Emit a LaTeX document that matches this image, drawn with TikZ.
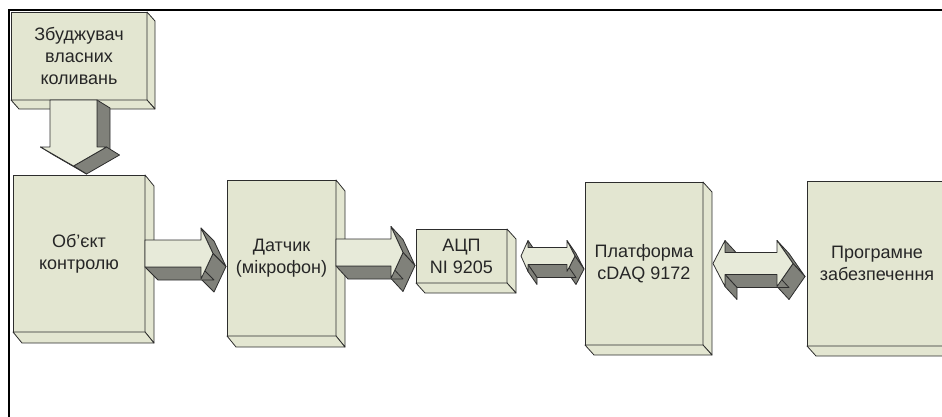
\documentclass[tikz,border=0pt]{standalone}
\usepackage{fontspec}
\setmainfont{Liberation Sans}
\usetikzlibrary{calc}
\definecolor{panel}{RGB}{227,230,209}
\definecolor{panelhi}{RGB}{231,234,217}
\definecolor{shade}{RGB}{128,129,122}
\definecolor{edge}{RGB}{45,45,45}

\newdimen\gapdim
% horizontal gap between two blocks -> \gapw
\newcommand{\gapx}[2]{%
  \pgfextractx{\gapdim}{\pgfpointdiff{\pgfpointanchor{#1}{east}}{\pgfpointanchor{#2}{west}}}%
  \pgfmathsetmacro{\gapw}{\the\gapdim}}
% extruded outline: first x, first y, other points, depth dx, dy
\newcommand{\slab}[5]{%
  \foreach \x/\y [remember=\x as \ox (initially #1), remember=\y as \oy (initially #2)] in {#3,#1/#2}{%
    \pgfmathparse{((\y)-(\oy))*(#4)-((\x)-(\ox))*(#5)>0}%
    \ifdim\pgfmathresult pt>0.5pt
      \filldraw[arrside] (\ox,\oy) -- (\x,\y) -- (\x+#4,\y+#5) -- (\ox+#4,\oy+#5) -- cycle;
    \fi}
  \filldraw[arrface] (#1,#2) \foreach \x/\y in {#3}{ -- (\x,\y)} -- cycle;}
% side and bottom faces of a block
\newcommand{\boxdepth}[3]{%
  \filldraw[side] (#1.north east) -- ++(#2,#3) -- ($(#1.south east)+(#2,#3)$) -- (#1.south east) -- cycle;
  \filldraw[side] (#1.south west) -- ++(#2,#3) -- ($(#1.south east)+(#2,#3)$) -- (#1.south east) -- cycle;}

\begin{document}
\begin{tikzpicture}[x=1pt, y=-1pt,
    font=\fontsize{18}{22}\selectfont,
    box/.style={draw=edge, fill=panel, line width=0.8pt, anchor=north west,
                outer sep=0pt, inner sep=0pt, align=center, text=black!85},
    side/.style={draw=edge, fill=panel, line width=0.8pt, line join=round},
    arrface/.style={draw=edge, fill=panelhi, line width=0.8pt, line join=round},
    arrside/.style={draw=edge, fill=shade, line width=0.8pt, line join=round},
    frame/.style={line width=2.4pt},
  ]
  \useasboundingbox (0,0) rectangle (942,416);
  \clip (0,0) rectangle (942,416);
  \draw[frame] (9,417) -- (9,10) -- (943,10);
  % blocks
  \node[box, minimum width=136pt, minimum height=88pt]  (exc)  at (11,12)  {Збуджувач\\власних\\коливань};
  \node[box, minimum width=132pt, minimum height=157pt] (obj)  at (13,175) {Об’єкт\\контролю};
  \node[box, minimum width=109pt, minimum height=156pt] (sens) at (227,180) {Датчик\\(мікрофон)};
  \node[box, minimum width=91pt,  minimum height=54pt]  (adc)  at (416,229) {АЦП\\NI 9205};
  \node[box, minimum width=118pt, minimum height=163pt] (daq)  at (585,182) {Платформа\\cDAQ 9172};
  \node[box, minimum width=140pt, minimum height=165pt] (soft) at (807,181) {Програмне\\забезпечення};
  \boxdepth{exc}{8}{9}
  \boxdepth{obj}{9}{11}
  \boxdepth{sens}{9}{11}
  \boxdepth{adc}{9}{10}
  \boxdepth{daq}{9}{10}
  \boxdepth{soft}{9}{10}
  % block arrows
  \begin{scope}[shift={([xshift=-5.5pt]exc.south)}]
    \slab{-23.5}{0}{23.5/0, 23.5/47, 33/47, 0/66, -33/47, -23.5/47}{13}{8}
  \end{scope}
  \begin{scope}[shift={(obj.east)}]
    \gapx{obj}{sens}
    \slab{0}{-13.5}{\gapw-26/-13.5, \gapw-26/-25.5, \gapw-14/0, \gapw-26/25.5, \gapw-26/13.5, 0/13.5}{13}{13}
  \end{scope}
  \begin{scope}[shift={([yshift=5.5pt]sens.east)}]
    \gapx{sens}{adc}
    \slab{0}{-13.5}{\gapw-25/-13.5, \gapw-25/-26, \gapw-13/0, \gapw-25/26, \gapw-25/13.5, 0/13.5}{12}{13}
  \end{scope}
  \begin{scope}[shift={(adc.east)}]
    \gapx{adc}{daq}
    \slab{14}{0}{21/-15.5, 21/-8.5, \gapw-18/-8.5, \gapw-18/-15.5, \gapw-10/0, \gapw-18/15.5, \gapw-18/8.5, 21/8.5, 21/15.5}{9}{13}
  \end{scope}
  \begin{scope}[shift={(daq.east)}]
    \gapx{daq}{soft}
    \slab{10}{0}{22/-23, 22/-11, \gapw-30/-11, \gapw-30/-23, \gapw-14/0, \gapw-30/23, \gapw-30/11, 22/11, 22/23}{12}{13}
  \end{scope}
\end{tikzpicture}
\end{document}
